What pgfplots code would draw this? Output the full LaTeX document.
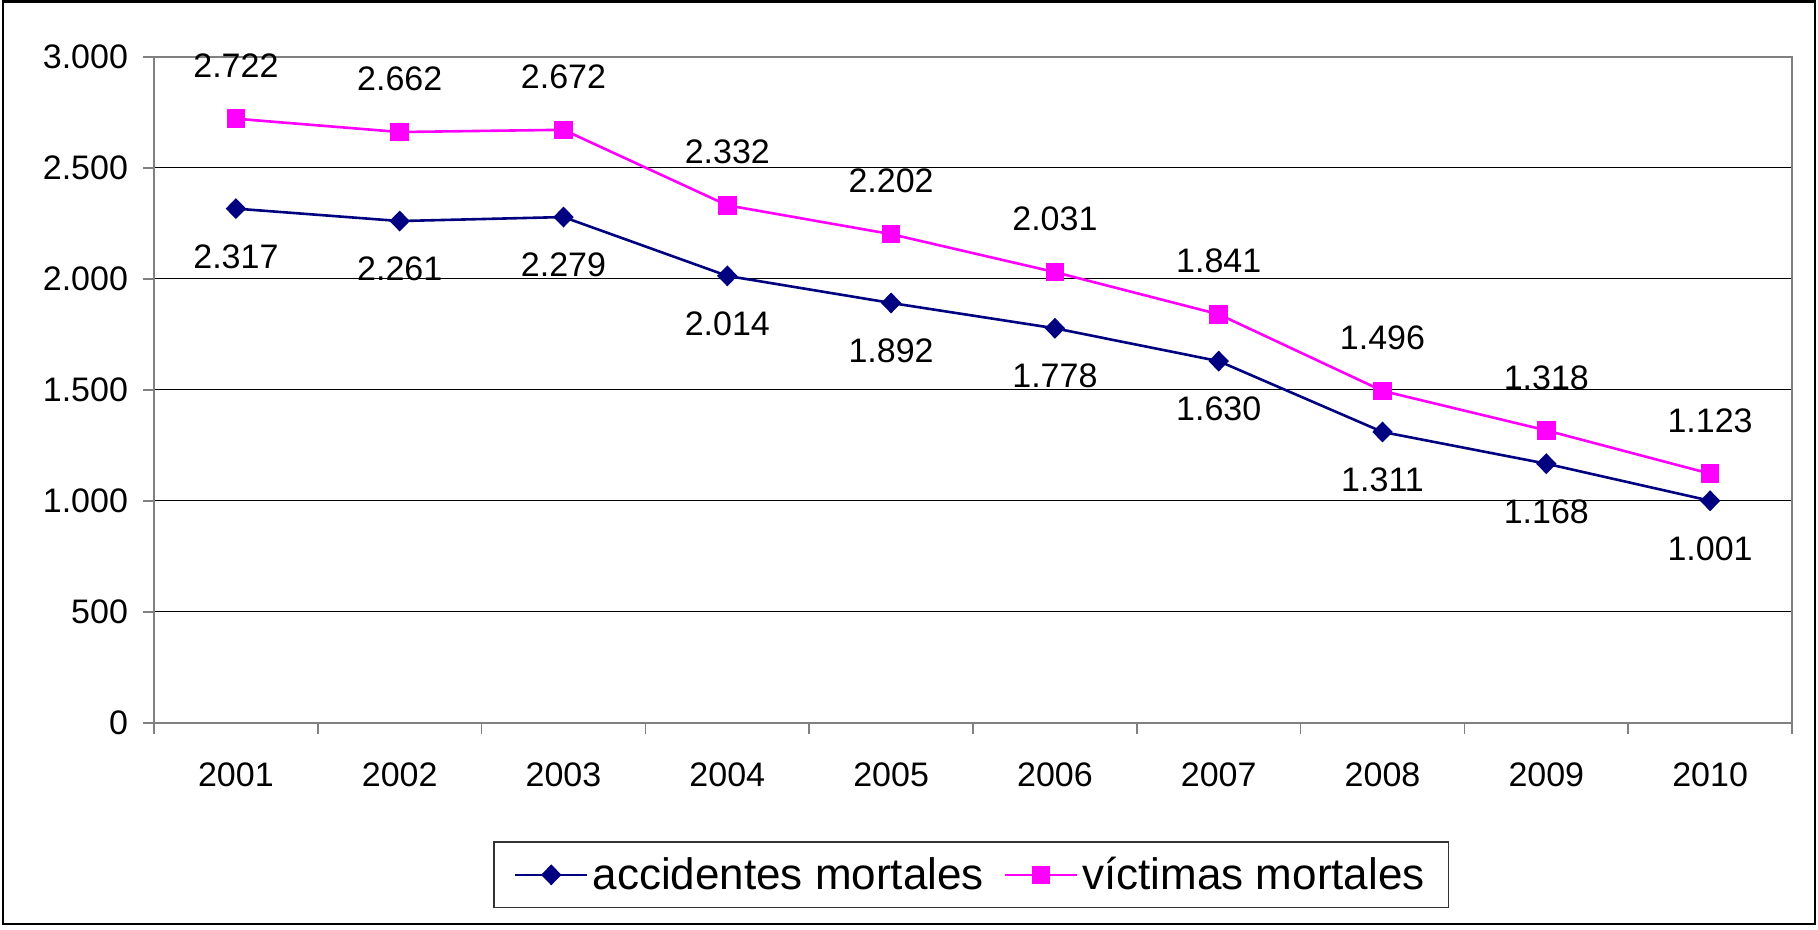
\documentclass[border=0pt]{standalone}
\usepackage{fontspec}
\setmainfont{Liberation Sans}
\usepackage{pgfplots}
\pgfplotsset{compat=1.18}
\definecolor{navy}{RGB}{0,0,128}
\definecolor{mag}{RGB}{255,0,255}
\definecolor{axgray}{RGB}{128,128,128}
\pgfplotsset{/pgf/number format/1000 sep={.}}
\begin{document}
\begin{tikzpicture}[x=1pt,y=1pt]
\useasboundingbox (0,0) rectangle (909,465);
\draw[black,line width=1.2pt] (1.5,3) rectangle (907.5,464.3);
\begin{axis}[
  at={(77pt,103.5pt)}, anchor=south west,
  scale only axis, width=819pt, height=333pt,
  xmin=0.5, xmax=10.5, ymin=0, ymax=3000,
  xtick={0.5,1.5,...,10.5}, xticklabels={},
  extra x ticks={1,2,3,4,5,6,7,8,9,10},
  extra x tick labels={2001,2002,2003,2004,2005,2006,2007,2008,2009,2010},
  extra x tick style={major tick length=0pt, xticklabel style={yshift=-16.5pt}},
  xtick pos=bottom, ytick pos=left,
  ytick={0,500,...,3000},
  /pgf/number format/assume math mode=true,
  tick align=outside, major tick length=5.5pt,
  tick style={axgray, line width=0.8pt},
  axis line style={axgray, line width=0.9pt},
  ymajorgrids, grid style={black, line width=0.5pt},
  ticklabel style={font=\fontsize{17}{20}\selectfont},
  yticklabel style={xshift=-4pt},
  clip=false,
  legend style={at={(0.499,-0.228)}, anchor=center, draw=black!80, line width=0.6pt,
    font=\fontsize{22}{26}\selectfont, inner xsep=10pt, inner ysep=5.6pt,
    /tikz/every even column/.append style={column sep=8pt}},
  legend columns=2,
  legend image code/.code={\draw[mark repeat=2,mark phase=2] plot coordinates {(0pt,0pt)(18pt,0pt)(36pt,0pt)};},
  nodes near coords,
  nodes near coords style={font=\fontsize{17}{20}\selectfont, black, anchor=center},
]
\addplot[navy, line width=1.3pt, mark=diamond*, mark size=4.3pt, mark options={xscale=1.3, solid},
  every node near coord/.append style={yshift=-24pt}]
  coordinates {(1,2317)(2,2261)(3,2279)(4,2014)(5,1892)(6,1778)(7,1630)(8,1311)(9,1168)(10,1001)};
\addlegendentry{accidentes mortales}
\addplot[mag, line width=1.3pt, mark=square*, mark size=4pt, mark options={solid},
  every node near coord/.append style={yshift=26.5pt}]
  coordinates {(1,2722)(2,2662)(3,2672)(4,2332)(5,2202)(6,2031)(7,1841)(8,1496)(9,1318)(10,1123)};
\addlegendentry{víctimas mortales}
\end{axis}
\end{tikzpicture}
\end{document}
